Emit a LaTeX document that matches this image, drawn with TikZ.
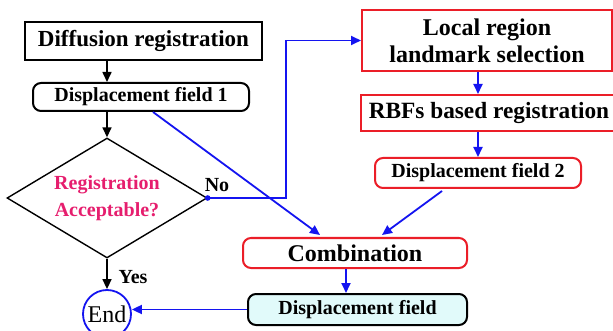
\documentclass[tikz,border=0pt]{standalone}
\usepackage{fontspec}
\setmainfont{Liberation Serif}
\usetikzlibrary{shapes.geometric,arrows.meta,calc}
\definecolor{boxred}{RGB}{235,30,40}
\definecolor{lineblue}{RGB}{20,20,240}
\definecolor{pinktext}{RGB}{230,30,110}
\definecolor{lightcyan}{RGB}{225,250,250}
\tikzset{
  blackbox/.style={draw=black, line width=2pt, inner sep=0pt, font=\fontsize{23}{26}\selectfont\bfseries},
  redbox/.style={draw=boxred, line width=2pt, inner sep=0pt, font=\fontsize{24}{27}\selectfont\bfseries, align=center},
  roundblack/.style={draw=black, line width=2pt, rounded corners=8pt, inner sep=0pt, font=\fontsize{20}{24}\selectfont\bfseries},
  roundred/.style={draw=boxred, line width=2pt, rounded corners=8pt, inner sep=0pt, font=\fontsize{20}{24}\selectfont\bfseries},
  blkarrow/.style={draw=black, line width=1.6pt, -{Triangle[length=10pt,width=9pt]}},
  bluearrow/.style={draw=lineblue, line width=1.8pt, -{Triangle[length=10pt,width=9pt]}},
  lbl/.style={font=\fontsize{20}{24}\selectfont\bfseries, inner sep=0pt}
}
\begin{document}
\begin{tikzpicture}[x=1pt, y=-1pt]
\useasboundingbox (0,0) rectangle (613,331);
\clip (0,0) rectangle (613,331);
\fill[white] (0,0) rectangle (613,331);

\node[blackbox, minimum width=237pt, minimum height=38pt] (diff) at (143.5,41) {Diffusion registration};
\node[roundblack, minimum width=216pt, minimum height=28pt] (df1) at (141,97) {Displacement field 1};
\node[diamond, draw=black, line width=1.4pt, aspect=1.667, minimum width=200pt, minimum height=120pt, inner sep=0pt,
      text=pinktext, align=center, font=\fontsize{20}{27}\selectfont\bfseries] (dia) at (107,198) {Registration\\Acceptable?};
\node[circle, draw=lineblue, line width=1.8pt, minimum size=48pt, inner sep=0pt, font=\fontsize{24}{27}\selectfont] (end) at (107,314) {End};

\node[redbox, minimum width=250pt, minimum height=61pt] (local) at (487,40.5) {Local region\\landmark selection};
\node[redbox, minimum width=256pt, minimum height=36pt, font=\fontsize{23.3}{27}\selectfont\bfseries] (rbf) at (489,113) {RBFs based registration};
\node[roundred, minimum width=206pt, minimum height=30pt] (df2) at (478,173) {Displacement field 2};
\node[roundred, minimum width=224pt, minimum height=30pt, font=\fontsize{24}{27}\selectfont\bfseries] (comb) at (355,253) {Combination};
\node[roundblack, fill=lightcyan, minimum width=219pt, minimum height=31pt] (df) at (357.5,309.5) {Displacement field};

\node[lbl] (no) at (217,185) {No};
\node[lbl] (yes) at (133,277) {Yes};

% black connectors
\draw[blkarrow] (diff.south -| dia.north) -- (df1.north -| dia.north);
\draw[blkarrow] (df1.south -| dia.north) -- (dia.north);
\draw[blkarrow] (dia.south) -- (end.north);

% blue connectors
\coordinate (jog) at (286,198);
\draw[bluearrow] (dia.east) -- (jog) |- (local.west);
\fill[lineblue] (dia.east) circle (2.8pt);
\draw[bluearrow] (local.south -| df2.north) -- (rbf.north -| df2.north);
\draw[bluearrow] (rbf.south -| df2.north) -- (df2.north);
\draw[bluearrow] ($(df2.south)+(-36,2)$) -- ($(comb.north)+(27,-2)$);
\draw[bluearrow] ($(df1.south)+(12,0)$) -- ($(comb.north)+(-35,-2)$);
\coordinate (cd) at ($(comb.south)+(-9,0)$);
\draw[bluearrow] (cd) -- (cd |- df.north);
\draw[bluearrow] (df.west) -- (df.west -| end.east);
\end{tikzpicture}
\end{document}
